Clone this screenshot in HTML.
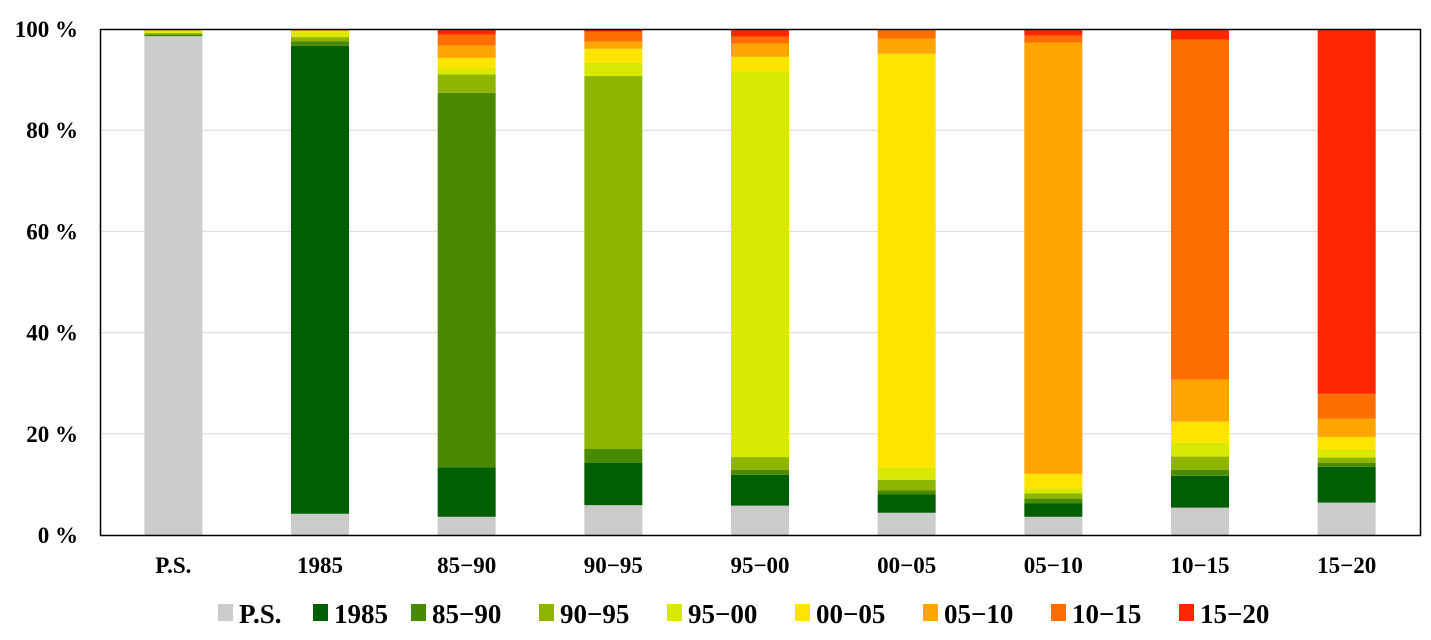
<!DOCTYPE html>
<html><head><meta charset="utf-8"><style>
body{margin:0;background:#fff;}
svg{display:block;font-family:"Liberation Serif",serif;font-weight:bold;}
</style></head><body>
<svg id="chart" width="1431" height="640" xmlns="http://www.w3.org/2000/svg">
<g id="grid"></g>
<g id="bars"></g>
<rect x="100.5" y="29.5" width="1320" height="506" fill="none" stroke="#000" stroke-width="1.5"/>
<g id="yt"></g>
<g id="xt"></g>
<g id="legend"></g>
</svg>
<script>
const categories = ["P.S.","1985","85\u221290","90\u221295","95\u221200","00\u221205","05\u221210","10\u221215","15\u221220"];
const seriesNames = ["P.S.","1985","85\u221290","90\u221295","95\u221200","00\u221205","05\u221210","10\u221215","15\u221220"];
const colors = ["#cbcbcb","#005f00","#4a8a00","#8fb500","#d9e800","#ffe400","#ffa500","#ff6f00","#ff2600"];
const valPS   = [98.6,0.1,0.2,0.3,0.2,0.3,0.2,0.1,0.0];
const val1985 = [4.2,92.5,0.9,0.8,0.9,0.3,0.2,0.2,0.0];
const val8590 = [3.6,9.8,74.0,3.6,1.3,2.0,2.4,2.2,1.1];
const val9095 = [5.9,8.4,2.7,73.7,2.6,2.8,1.4,2.0,0.5];
const val9500 = [5.8,6.1,1.0,2.5,76.2,2.9,2.6,1.4,1.5];
const val0005 = [4.4,3.6,0.8,2.1,2.4,81.8,3.0,1.8,0.1];
const val0510 = [3.6,2.7,0.9,1.0,1.0,2.9,85.2,1.4,1.3];
const val1015 = [5.4,6.3,1.2,2.6,2.7,4.2,8.3,67.2,2.1];
const val1520 = [6.4,7.1,0.8,1.0,1.6,2.5,3.6,4.9,72.1];
const tickValues = [0,20,40,60,80,100];
const tickLabels = ["0 %","20 %","40 %","60 %","80 %","100 %"];
const rows = [valPS,val1985,val8590,val9095,val9500,val0005,val0510,val1015,val1520];

const NS="http://www.w3.org/2000/svg";
const L=100,R=1420,T=29,B=535;
const yS=v=>B-(v/100)*(B-T);
const band=(R-L)/categories.length;
const xC=i=>L+band*(i+0.5);
const bw=58;
function mk(t,a,p){const e=document.createElementNS(NS,t);for(const k in a)e.setAttribute(k,a[k]);p.appendChild(e);return e;}
const grid=document.getElementById('grid'),bars=document.getElementById('bars'),yt=document.getElementById('yt'),xt=document.getElementById('xt'),lg=document.getElementById('legend');
tickValues.forEach((v,i)=>{
  if(v>0&&v<100){const g=mk('line',{x1:L,x2:R,y1:yS(v),y2:yS(v),stroke:'#d9d9d9','stroke-width':1},grid);
  
  }
  const t=mk('text',{x:78,y:yS(v)+8,'text-anchor':'end','font-size':23},yt);
  t.textContent=tickLabels[i];
  
  
});
rows.forEach((row,i)=>{
  let acc=0;
  row.forEach((v,s)=>{
    const r=mk('rect',{x:xC(i)-bw/2,y:yS(acc+v),width:bw,height:Math.max(0,yS(acc)-yS(acc+v)),fill:colors[s]},bars);
    
    
    acc+=v;
  });
  const t=mk('text',{x:xC(i),y:573,'text-anchor':'middle','font-size':23},xt);
  t.textContent=categories[i];
  
  
});
let lx=218;
const lgW=[95,98,128,128,128,128,128,128,100];
seriesNames.forEach((n,s)=>{
  const r=mk('rect',{x:lx,y:604,width:15,height:17,fill:colors[s]},lg);
  
  
  const t=mk('text',{x:lx+21,y:623,'font-size':27},lg);
  t.textContent=n;
  
  
  lx+=lgW[s];
});
</script>
</body></html>
